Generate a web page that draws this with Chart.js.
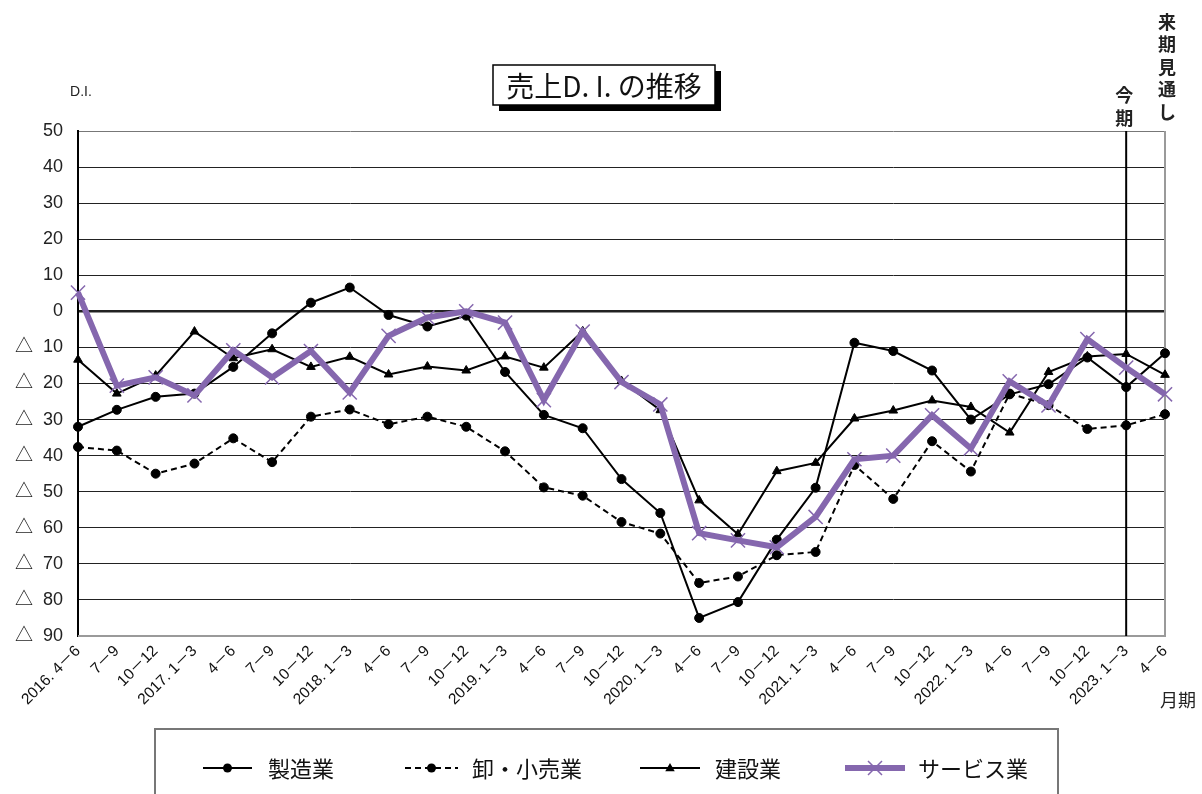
<!DOCTYPE html>
<html><head><meta charset="utf-8">
<script src="https://cdn.jsdelivr.net/npm/chart.js@4.4.1/dist/chart.umd.min.js"></script>
<style>html,body{margin:0;padding:0;background:#fff;overflow:hidden}canvas{display:block}</style>
</head><body>
<canvas id="c" width="1202" height="794"></canvas>
<script>
const categories = ['2016. 4－6','7－9','10－12','2017. 1－3','4－6','7－9','10－12','2018. 1－3','4－6','7－9','10－12','2019. 1－3','4－6','7－9','10－12','2020. 1－3','4－6','7－9','10－12','2021. 1－3','4－6','7－9','10－12','2022. 1－3','4－6','7－9','10－12','2023. 1－3','4－6'];
const seriesNames = ['製造業','卸・小売業','建設業','サービス業'];
const manufacturing = [-32,-27.3,-23.7,-22.8,-15.4,-6.1,2.4,6.6,-1,-4.2,-1.2,-16.8,-28.7,-32.4,-46.5,-55.9,-85,-80.6,-63.3,-48.9,-8.7,-11,-16.4,-30,-23,-20.2,-12.8,-21,-11.6];
const wholesaleRetail = [-37.6,-38.6,-45,-42.2,-35.2,-41.8,-29.2,-27.2,-31.3,-29.2,-32,-38.8,-48.8,-51.1,-58.4,-61.6,-75.3,-73.5,-67.6,-66.7,-42.6,-52,-36,-44.4,-22.8,-26,-32.6,-31.6,-28.5];
const construction = [-13.4,-22.8,-17.8,-5.6,-13,-10.5,-15.4,-12.6,-17.5,-15.3,-16.4,-12.5,-15.6,-5.5,-19.3,-27.4,-52.4,-61.8,-44.3,-42,-29.7,-27.5,-24.7,-26.5,-33.6,-16.8,-12.5,-11.8,-17.6];
const services = [5.2,-20.6,-18.3,-23.3,-10.8,-18.3,-11,-22.5,-6.8,-1.7,0,-3.1,-24.6,-5.6,-19.6,-25.8,-61.5,-63.5,-65.4,-57,-41,-40,-28.8,-38,-19.4,-26.1,-7.7,-15.6,-23];
const yTicks = {min:-90, max:50, step:10};
const currentPeriodIndex = 27;
const titleText = '売上D. I. の推移';

const PURPLE = '#8567AE';
const JP = '"Noto Sans CJK JP", sans-serif';
const NUM = '"Liberation Sans", "Noto Sans CJK JP", sans-serif';

function drawMarker(ctx, style, x, y, r, color, lw){
  ctx.save();
  ctx.fillStyle = color; ctx.strokeStyle = color; ctx.lineWidth = lw; ctx.setLineDash([]);
  ctx.beginPath();
  if(style==='circle'){ ctx.arc(x,y,r,0,Math.PI*2); ctx.fill(); }
  else if(style==='triangle'){ ctx.moveTo(x,y-r); ctx.lineTo(x+r*0.95,y+r*0.65); ctx.lineTo(x-r*0.95,y+r*0.65); ctx.closePath(); ctx.fill(); }
  else if(style==='crossRot'){ ctx.moveTo(x-r*0.7,y-r*0.7); ctx.lineTo(x+r*0.7,y+r*0.7); ctx.moveTo(x+r*0.7,y-r*0.7); ctx.lineTo(x-r*0.7,y+r*0.7); ctx.stroke(); }
  ctx.restore();
}

const decor = {
  id:'decor',
  beforeDatasetsDraw(chart){
    const {ctx, chartArea:a, scales:{x}} = chart;
    ctx.save();
    ctx.strokeStyle = '#9a9a9a'; ctx.lineWidth = 2;
    ctx.beginPath(); ctx.moveTo(a.right, a.top); ctx.lineTo(a.right, a.bottom); ctx.lineTo(a.left, a.bottom); ctx.stroke();
    const cx = x.getPixelForValue(currentPeriodIndex);
    ctx.strokeStyle = '#000'; ctx.lineWidth = 2;
    ctx.beginPath(); ctx.moveTo(cx, a.top); ctx.lineTo(cx, a.bottom); ctx.stroke();
    ctx.restore();
  },
  afterDraw(chart){
    const {ctx, chartArea:a, scales:{x}} = chart;
    ctx.save();
    const bx=493, by=65, bw=222, bh=40;
    ctx.fillStyle='#000'; ctx.fillRect(bx+6, by+6, bw, bh);
    ctx.fillStyle='#fff'; ctx.fillRect(bx, by, bw, bh);
    ctx.strokeStyle='#000'; ctx.lineWidth=1.5; ctx.strokeRect(bx, by, bw, bh);
    ctx.fillStyle='#111'; ctx.font='28px '+JP; ctx.textAlign='center'; ctx.textBaseline='middle';
    ctx.fillText(titleText, bx+bw/2, by+bh/2+1);
    ctx.font='14px '+NUM; ctx.fillStyle='#222'; ctx.fillText('D.I.', 81, 92);
    ctx.font='18px '+JP; ctx.textAlign='left'; ctx.fillText('月期', 1160, 700);
    const cx = x.getPixelForValue(currentPeriodIndex);
    ctx.textAlign='center'; ctx.font='bold 18px '+JP;
    ['今','期'].forEach((ch,i)=>ctx.fillText(ch, cx-2, 95+i*23));
    ['来','期','見','通','し'].forEach((ch,i)=>ctx.fillText(ch, a.right+2, 22+i*22.5));
    ctx.strokeStyle='#777'; ctx.lineWidth=2;
    ctx.beginPath(); ctx.moveTo(155, 800); ctx.lineTo(155, 729); ctx.lineTo(1058, 729); ctx.lineTo(1058, 800); ctx.stroke();
    const items = [[203,252,268],[405,458,472],[640,700,715],[845,905,918]];
    const ly = 768;
    chart.data.datasets.forEach((ds,i)=>{
      const [x0,x1,tx] = items[i];
      ctx.save();
      ctx.strokeStyle = ds.borderColor; ctx.lineWidth = ds.borderWidth;
      ctx.setLineDash(ds.borderDash||[]);
      ctx.beginPath(); ctx.moveTo(x0, ly); ctx.lineTo(x1, ly); ctx.stroke();
      ctx.restore();
      drawMarker(ctx, ds.pointStyle, (x0+x1)/2, ly, ds.pointRadius, ds.pointBackgroundColor, ds.pointBorderWidth||1);
      ctx.fillStyle='#111'; ctx.font='22px '+JP; ctx.textAlign='left'; ctx.textBaseline='middle';
      ctx.fillText(ds.label, tx, ly+1);
    });
    ctx.restore();
  }
};

new Chart(document.getElementById('c'), {
  type:'line',
  data:{
    labels: categories,
    datasets:[
      {label:seriesNames[0], data:manufacturing, borderColor:'#000', backgroundColor:'#000', borderWidth:2, pointStyle:'circle', pointRadius:4.5, pointBackgroundColor:'#000', pointBorderColor:'#000', pointBorderWidth:1, order:1, clip:false, tension:0},
      {label:seriesNames[1], data:wholesaleRetail, borderColor:'#000', backgroundColor:'#000', borderWidth:2, borderDash:[6,4], pointStyle:'circle', pointRadius:4.5, pointBackgroundColor:'#000', pointBorderColor:'#000', pointBorderWidth:1, order:1, clip:false, tension:0},
      {label:seriesNames[2], data:construction, borderColor:'#000', backgroundColor:'#000', borderWidth:2, pointStyle:'triangle', pointRadius:5, pointBackgroundColor:'#000', pointBorderColor:'#000', pointBorderWidth:1, order:1, clip:false, tension:0},
      {label:seriesNames[3], data:services, borderColor:PURPLE, backgroundColor:PURPLE, borderWidth:6, pointStyle:'crossRot', pointRadius:10, pointBackgroundColor:PURPLE, pointBorderColor:PURPLE, pointBorderWidth:1.5, order:0, clip:false, tension:0}
    ]
  },
  options:{
    responsive:false, animation:false, devicePixelRatio:1,
    layout:{padding:{left:0, right:37, top:131, bottom:68}},
    plugins:{legend:{display:false}, title:{display:false}, tooltip:{enabled:false}},
    elements:{line:{borderJoinStyle:'miter'}},
    scales:{
      x:{
        offset:false,
        grid:{display:false, drawTicks:false},
        border:{display:true, color:'#9a9a9a', width:2},
        ticks:{autoSkip:false, maxRotation:45, minRotation:45, padding:6, color:'#111', font:{size:15.5, family:NUM}},
        afterFit(s){ s.height = 90; }
      },
      y:{
        min:yTicks.min, max:yTicks.max,
        grid:{drawTicks:false, color:(c)=> (c.tick && (c.tick.value===yTicks.min)) ? '#9a9a9a' : (c.tick && c.tick.value===yTicks.max ? '#777' : '#222'),
              lineWidth:(c)=> (c.tick && c.tick.value===0) ? 2.5 : 1},
        border:{display:true, color:'#000', width:2},
        ticks:{stepSize:yTicks.step, padding:15, color:'#222', font:{size:18, family:NUM},
               callback:(v)=> v<0 ? '△  '+(-v) : String(v)},
        afterFit(s){ s.width = 78; }
      }
    }
  },
  plugins:[decor]
});
</script>
</body></html>
